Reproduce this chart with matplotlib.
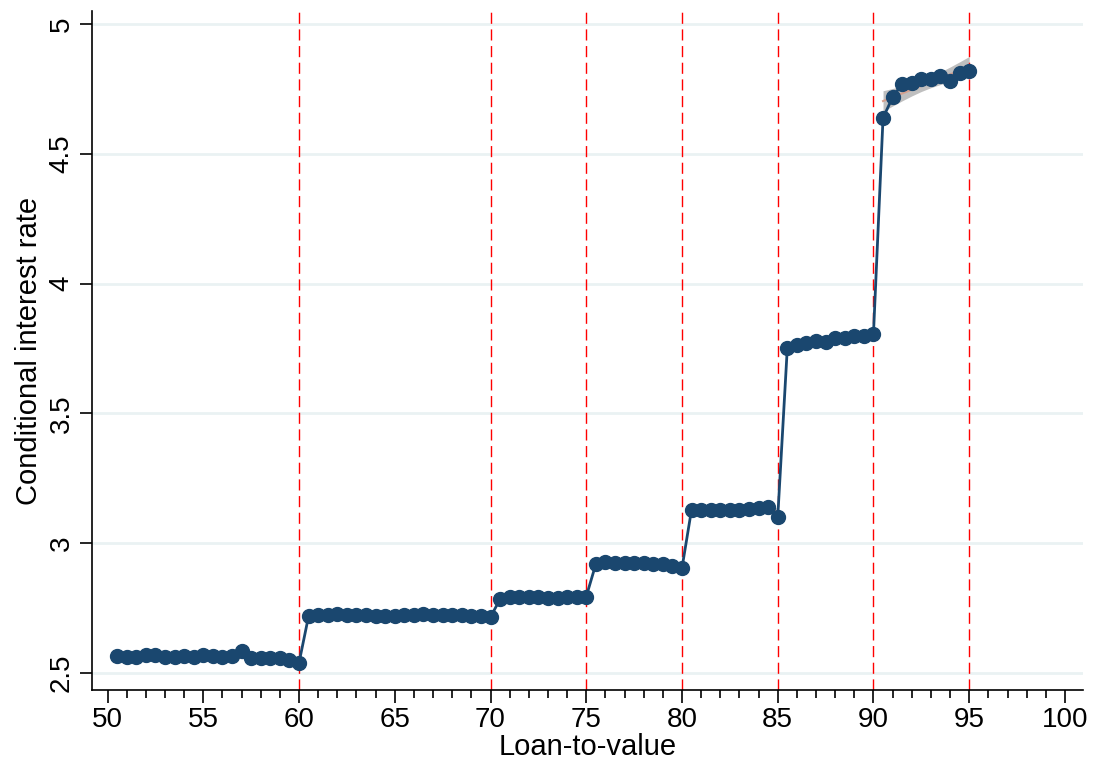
import numpy as np
import matplotlib
matplotlib.use("Agg")
import matplotlib.pyplot as plt
from matplotlib.ticker import MultipleLocator
from matplotlib import font_manager

ltv = [50.5 + 0.5 * i for i in range(90)]
seg_a = [2.565, 2.562, 2.562, 2.570, 2.570, 2.562, 2.562, 2.565, 2.562, 2.568,
         2.565, 2.562, 2.567, 2.585, 2.558, 2.558, 2.558, 2.558, 2.552, 2.540]   # 50.5-60
seg_b = [2.720, 2.722, 2.724, 2.726, 2.724, 2.723, 2.722, 2.721, 2.720, 2.720,
         2.725, 2.725, 2.726, 2.725, 2.724, 2.722, 2.722, 2.721, 2.719, 2.716]   # 60.5-70
seg_c = [2.785, 2.793, 2.793, 2.792, 2.792, 2.791, 2.791, 2.792, 2.793, 2.795]   # 70.5-75
seg_d = [2.920, 2.928, 2.926, 2.925, 2.925, 2.925, 2.922, 2.920, 2.912, 2.905]   # 75.5-80
seg_e = [3.130, 3.128, 3.127, 3.127, 3.128, 3.128, 3.132, 3.135, 3.140, 3.100]   # 80.5-85
seg_f = [3.752, 3.762, 3.773, 3.780, 3.775, 3.790, 3.792, 3.797, 3.797, 3.807]   # 85.5-90
seg_g = [4.638, 4.718, 4.770, 4.773, 4.790, 4.790, 4.800, 4.782, 4.812, 4.818]   # 90.5-95
segments = [seg_a, seg_b, seg_c, seg_d, seg_e, seg_f, seg_g]
rate = seg_a + seg_b + seg_c + seg_d + seg_e + seg_f + seg_g
thresholds = [60, 70, 75, 80, 85, 90, 95]
xticks = list(range(50, 101, 5))
yticks = [2.5, 3, 3.5, 4, 4.5, 5]
ytick_labels = ["2.5", "3", "3.5", "4", "4.5", "5"]

avail = {f.name for f in font_manager.fontManager.ttflist}
fam = "Liberation Sans Narrow" if "Liberation Sans Narrow" in avail else "Liberation Sans"
plt.rcParams['font.family'] = [fam, 'DejaVu Sans']

navy = "#1a476f"
fig = plt.figure(figsize=(11.01, 7.69), dpi=100)
ax = fig.add_axes([0.0836, 0.1027, 0.9, 0.883])

for y in yticks:
    ax.axhline(y, color="#eaf2f3", lw=2, zorder=0)

# fitted lines with CI per segment
start = 0
for seg in segments:
    n = len(seg)
    xs = np.array(ltv[start:start + n])
    ys = np.array(seg)
    start += n
    coef = np.polyfit(xs, ys, 1)
    fit = np.polyval(coef, xs)
    resid = ys - fit
    s = np.sqrt(np.sum(resid ** 2) / max(n - 2, 1))
    xm = xs.mean()
    se = s * np.sqrt(1.0 / n + (xs - xm) ** 2 / np.sum((xs - xm) ** 2))
    ax.fill_between(xs, fit - 2.1 * se, fit + 2.1 * se, color="#b4b4b4", alpha=0.85, lw=0, zorder=1)
    ax.plot(xs, fit, color="#d6a08e", lw=1.5, zorder=1.5)

ax.plot(ltv, rate, color=navy, lw=2, marker="o", ms=10, mfc=navy, mec=navy, zorder=3)

for t in thresholds:
    ax.axvline(t, color="#ff0000", lw=1, ls=(0, (8, 4)), zorder=2)

ax.set_xlim(49.19, 100.94)
ax.set_ylim(2.435, 5.05)
ax.set_xticks(xticks)
ax.xaxis.set_minor_locator(MultipleLocator(1))
ax.set_yticks(yticks)
ax.set_yticklabels(ytick_labels, rotation=90, va="center")
ax.tick_params(axis="both", which="major", length=9, width=1.2, labelsize=20, direction="out", colors="black")
ax.tick_params(axis="x", which="minor", length=6, width=1.2)
for sp in ["top", "right"]:
    ax.spines[sp].set_visible(False)
for sp in ["left", "bottom"]:
    ax.spines[sp].set_linewidth(1.2)
ax.set_xlabel("Loan-to-value", fontsize=21, labelpad=0)
ax.set_ylabel("Conditional interest rate", fontsize=21, labelpad=4)

fig.savefig("out.png", dpi=100)
